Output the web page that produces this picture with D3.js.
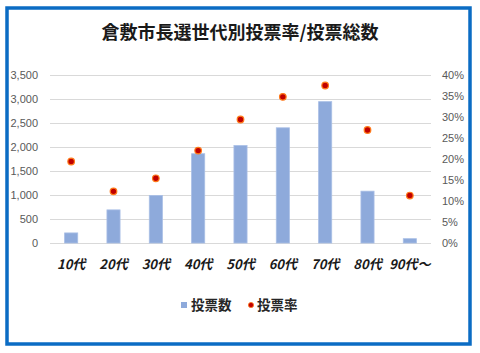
<!DOCTYPE html>
<html>
<head>
<meta charset="utf-8">
<script src="https://cdn.jsdelivr.net/npm/d3@7"></script>
<style>
  body { margin: 0; background: #fff; }
  svg { display: block; }
</style>
</head>
<body>
<script>
// age groups and values
var ages = ["10代", "20代", "30代", "40代", "50代", "60代", "70代", "80代", "90代〜"];
var votes = [210, 690, 990, 1860, 2030, 2400, 2945, 1080, 90];
var rates = [19.4, 12.3, 15.4, 22.0, 29.4, 34.8, 37.5, 26.9, 11.3];
var leftTicks = [0, 500, 1000, 1500, 2000, 2500, 3000, 3500];
var rightTicks = [0, 5, 10, 15, 20, 25, 30, 35, 40];
var title = "倉敷市長選世代別投票率/投票総数";

var width = 480, height = 353;
var cjk = "'Noto Sans CJK JP', 'Noto Sans', sans-serif";
var num = "'Liberation Sans', Arial, sans-serif";

var svg = d3.select("body").append("svg")
	.attr("width", width)
	.attr("height", height);

// plot box
var plot = { left: 50, right: 431, top: 75, bottom: 243 };

// outer blue frame
svg.append("rect")
	.attr("x", 7)
	.attr("y", 8)
	.attr("width", 463)
	.attr("height", 336)
	.attr("fill", "#fff")
	.attr("stroke", "#0b6cc4")
	.attr("stroke-width", 3.5);

// title
svg.append("text")
	.attr("x", 240)
	.attr("y", 39)
	.attr("text-anchor", "middle")
	.style("font-family", cjk)
	.style("font-weight", "bold")
	.style("font-size", "18px")
	.attr("fill", "#1a1a1a")
	.text(title);

var x = d3.scaleBand()
	.domain(ages)
	.range([plot.left, plot.right])
	.paddingInner(0.69)
	.paddingOuter(0.345);

var yLeft = d3.scaleLinear()
	.domain([0, 3500])
	.range([plot.bottom, plot.top]);

var yRight = d3.scaleLinear()
	.domain([0, 40])
	.range([plot.bottom, plot.top]);

// gridlines
svg.append("g")
	.selectAll("line")
	.data(leftTicks)
	.join("line")
	.attr("x1", plot.left)
	.attr("x2", plot.right)
	.attr("y1", d => Math.round(yLeft(d)) + 0.5)
	.attr("y2", d => Math.round(yLeft(d)) + 0.5)
	.attr("stroke", "#d9d9d9")
	.attr("stroke-width", 1);

// left axis
var leftAxis = d3.axisLeft(yLeft)
	.tickValues(leftTicks)
	.tickFormat(d3.format(","))
	.tickSize(0)
	.tickPadding(0);

var gl = svg.append("g")
	.attr("transform", "translate(38,0)")
	.call(leftAxis);
gl.select(".domain").remove();
gl.selectAll("text")
	.style("font-family", num)
	.style("font-size", "11px")
	.attr("fill", "#595959");

// right axis
var rightAxis = d3.axisRight(yRight)
	.tickValues(rightTicks)
	.tickFormat(d => d + "%")
	.tickSize(0)
	.tickPadding(0);

var gr = svg.append("g")
	.attr("transform", "translate(442,0)")
	.call(rightAxis);
gr.select(".domain").remove();
gr.selectAll("text")
	.style("font-family", num)
	.style("font-size", "11px")
	.attr("fill", "#595959");

// bars
svg.append("g")
	.selectAll("rect")
	.data(votes)
	.join("rect")
	.attr("x", (d, i) => x(ages[i]))
	.attr("y", d => yLeft(d))
	.attr("width", x.bandwidth())
	.attr("height", d => yLeft(0) - yLeft(d))
	.attr("fill", "#8eaadb")
	.attr("stroke", "#a9bfe6")
	.attr("stroke-width", 0.8);

// rate dots
svg.append("g")
	.selectAll("circle")
	.data(rates)
	.join("circle")
	.attr("cx", (d, i) => x(ages[i]) + x.bandwidth() / 2)
	.attr("cy", d => yRight(d))
	.attr("r", 3.3)
	.attr("fill", "#c00000")
	.attr("stroke", "#ff7a1a")
	.attr("stroke-width", 1.2);

// category labels
svg.append("g")
	.selectAll("text")
	.data(ages)
	.join("text")
	.attr("x", d => x(d) + x.bandwidth() / 2)
	.attr("y", 269)
	.attr("text-anchor", "middle")
	.style("font-family", cjk)
	.style("font-weight", "bold")
	.style("font-style", "italic")
	.style("font-size", "13px")
	.attr("fill", "#1a1a1a")
	.text(d => d);

// legend
var legend = svg.append("g");
legend.append("rect")
	.attr("x", 181)
	.attr("y", 302)
	.attr("width", 6)
	.attr("height", 6)
	.attr("fill", "#8eaadb");
legend.append("text")
	.attr("x", 191)
	.attr("y", 310)
	.style("font-family", cjk)
	.style("font-weight", "bold")
	.style("font-size", "13.5px")
	.attr("fill", "#262626")
	.text("投票数");
legend.append("circle")
	.attr("cx", 251)
	.attr("cy", 305)
	.attr("r", 2.6)
	.attr("fill", "#c00000")
	.attr("stroke", "#ff7a1a")
	.attr("stroke-width", 0.8);
legend.append("text")
	.attr("x", 257)
	.attr("y", 310)
	.style("font-family", cjk)
	.style("font-weight", "bold")
	.style("font-size", "13.5px")
	.attr("fill", "#262626")
	.text("投票率");
</script>
</body>
</html>
